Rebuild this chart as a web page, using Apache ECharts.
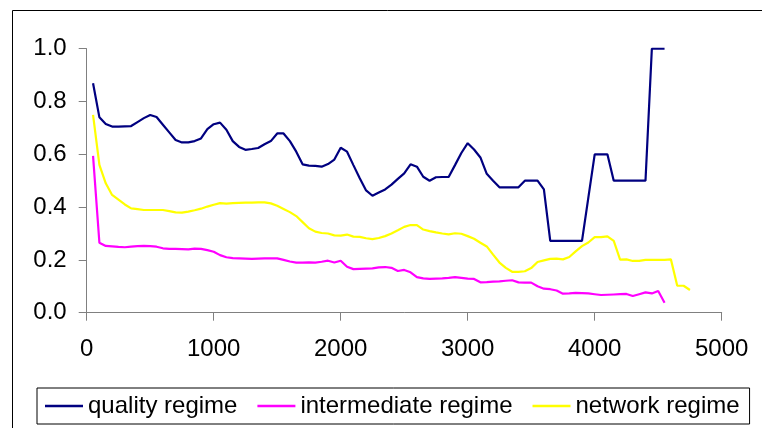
<!DOCTYPE html>
<html>
<head>
<meta charset="utf-8">
<script src="https://cdn.jsdelivr.net/npm/echarts@6/dist/echarts.min.js"></script>
<style>
html,body{margin:0;padding:0;background:#fff;}
#chart{width:762px;height:428px;}
</style>
</head>
<body>
<div id="chart"></div>
<script>
var xValues = [50,100,150,200,250,300,350,400,450,500,
  550,600,650,700,750,800,850,900,950,1000,
  1050,1100,1150,1200,1250,1300,1350,1400,1450,1500,
  1550,1600,1650,1700,1750,1800,1850,1900,1950,2000,
  2050,2100,2150,2200,2250,2300,2350,2400,2450,2500,
  2550,2600,2650,2700,2750,2800,2850,2900,2950,3000,
  3050,3100,3150,3200,3250,3300,3350,3400,3450,3500,
  3550,3600,3650,3700,3750,3800,3850,3900,3950,4000,
  4050,4100,4150,4200,4250,4300,4350,4400,4450,4500,
  4550,4600,4650,4700,4750];

var qualityRegime = [0.869,0.740,0.715,0.705,0.705,0.706,0.707,0.722,0.737,0.749,
  0.741,0.712,0.683,0.654,0.645,0.645,0.650,0.660,0.695,0.714,
  0.720,0.693,0.650,0.628,0.617,0.620,0.624,0.638,0.650,0.679,
  0.679,0.650,0.610,0.562,0.557,0.556,0.553,0.563,0.580,0.625,
  0.610,0.559,0.509,0.463,0.443,0.455,0.467,0.485,0.507,0.528,
  0.562,0.553,0.515,0.500,0.513,0.514,0.514,0.559,0.605,0.642,
  0.618,0.588,0.526,0.500,0.475,0.475,0.475,0.475,0.500,0.500,
  0.500,0.467,0.272,0.272,0.272,0.272,0.272,0.272,0.436,0.600,
  0.600,0.600,0.500,0.500,0.500,0.500,0.500,0.500,1.000,1.000,
  1.000];

var intermediateRegime = [0.594,0.265,0.253,0.251,0.249,0.248,0.250,0.252,0.253,0.252,
  0.250,0.244,0.242,0.242,0.241,0.240,0.243,0.242,0.237,0.231,
  0.218,0.210,0.207,0.206,0.205,0.204,0.205,0.206,0.206,0.206,
  0.200,0.194,0.190,0.190,0.191,0.190,0.193,0.197,0.190,0.197,
  0.174,0.165,0.166,0.167,0.168,0.172,0.173,0.170,0.158,0.162,
  0.153,0.135,0.130,0.128,0.129,0.130,0.132,0.135,0.132,0.129,
  0.128,0.115,0.116,0.118,0.119,0.121,0.123,0.115,0.114,0.114,
  0.100,0.091,0.089,0.084,0.072,0.073,0.075,0.074,0.073,0.070,
  0.067,0.068,0.069,0.070,0.071,0.063,0.070,0.077,0.073,0.082,
  0.038];

var networkRegime = [0.749,0.560,0.490,0.446,0.428,0.410,0.395,0.392,0.389,0.389,
  0.389,0.389,0.385,0.380,0.379,0.383,0.388,0.394,0.402,0.409,
  0.415,0.413,0.415,0.416,0.417,0.417,0.418,0.418,0.414,0.405,
  0.393,0.381,0.366,0.343,0.320,0.307,0.302,0.300,0.293,0.292,
  0.296,0.288,0.287,0.282,0.279,0.283,0.290,0.300,0.312,0.325,
  0.332,0.332,0.315,0.309,0.304,0.300,0.297,0.301,0.299,0.290,
  0.280,0.265,0.251,0.220,0.190,0.170,0.155,0.155,0.157,0.169,
  0.192,0.198,0.204,0.205,0.202,0.211,0.232,0.252,0.266,0.286,
  0.286,0.289,0.272,0.201,0.202,0.196,0.196,0.200,0.200,0.200,
  0.200,0.202,0.102,0.102,0.086];

var seriesNames = ['quality regime','intermediate regime','network regime'];
var seriesColors = ['#000080','#FF00FF','#FFFF00'];

function pairs(vals){ return vals.map(function(v,i){ return [xValues[i], v]; }); }

var FONT = '"Liberation Sans", Arial, sans-serif';
var chart = echarts.init(document.getElementById('chart'), null, {renderer:'canvas'});
var allSeries = [qualityRegime, intermediateRegime, networkRegime].map(function(vals, i){
  return {
    name: seriesNames[i], type:'line', data: pairs(vals),
    showSymbol:false, symbol:'none', smooth:false, animation:false,
    lineStyle:{color:seriesColors[i], width:2.2}, itemStyle:{color:seriesColors[i]}
  };
});
chart.setOption({
  backgroundColor:'#ffffff',
  animation:false,
  graphic:[{type:'rect', shape:{x:12.5, y:10.5, width:800, height:500},
    style:{fill:'none', stroke:'#000', lineWidth:1}, silent:true, z:-1}],
  grid:{left:86.7, right:40.3, top:48.7, bottom:115.3, containLabel:false},
  xAxis:{type:'value', min:0, max:5000, interval:1000,
    axisLine:{lineStyle:{color:'#808080', width:1}},
    axisTick:{show:true, length:8, lineStyle:{color:'#808080'}},
    splitLine:{show:false},
    axisLabel:{fontFamily:FONT, fontSize:24, color:'#000', margin:25,
      formatter:function(v){ return String(v); }}},
  yAxis:{type:'value', min:0, max:1, interval:0.2,
    axisLine:{show:true, lineStyle:{color:'#808080', width:1}},
    axisTick:{show:true, length:8, lineStyle:{color:'#808080'}},
    splitLine:{show:false},
    axisLabel:{fontFamily:FONT, fontSize:24, color:'#000', margin:20,
      formatter:function(v){ return v.toFixed(1); }}},
  legend:{left:37, top:388, orient:'horizontal',
    data:seriesNames, icon:'rect', itemWidth:38, itemHeight:2.5, itemGap:20,
    padding:[5,10,5,8], borderColor:'#000', borderWidth:1,
    textStyle:{fontFamily:FONT, fontSize:24, color:'#000', lineHeight:26}},
  series: allSeries
});
</script>
</body>
</html>
